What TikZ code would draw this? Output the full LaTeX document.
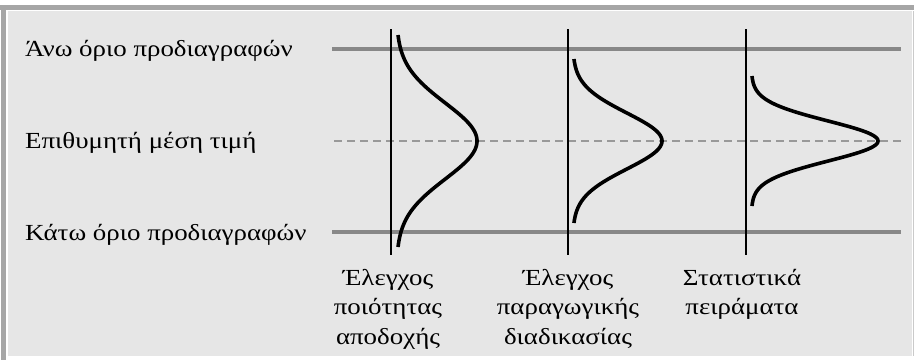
\documentclass[tikz,border=0pt]{standalone}
\usepackage{fontspec}
\setmainfont[FakeStretch=1.17]{Liberation Serif}
\definecolor{panel}{HTML}{E6E6E6}
\definecolor{frame}{HTML}{A6A6A6}
\definecolor{limit}{HTML}{888888}
\definecolor{target}{HTML}{999999}
\tikzset{
  limitline/.style={draw=limit, line width=4pt},
  targetline/.style={draw=target, line width=1.1pt, dash pattern=on 8pt off 5pt},
  axisline/.style={draw=black, line width=1.3pt},
  bell/.style={draw=black, line width=3.6pt, line join=round},
  sidelabel/.style={anchor=base west, inner sep=0pt, font=\fontsize{23}{28}\selectfont},
  caption/.style={anchor=north, inner sep=0pt, align=center, font=\fontsize{23}{29.5}\selectfont},
}
\begin{document}
\begin{tikzpicture}[x=1pt,y=-1pt]
\useasboundingbox (0,0) rectangle (914,360);
\fill[white] (0,0) rectangle (914,360);
% frame
\fill[frame] (0,5) rectangle (914,9.5);
\fill[frame] (1,5) rectangle (5.5,360);
\fill[panel] (8,11) rectangle (912,356);
\draw[frame!60, line width=0.6pt] (913.3,11) -- (913.3,356);
% coordinates
\coordinate (uL) at (332,49);  \coordinate (uR) at (901,49);
\coordinate (mL) at (334,141); \coordinate (mR) at (901,141);
\coordinate (lL) at (332,232); \coordinate (lR) at (901,232);
% limit lines
\draw[limitline] (uL) -- (uR);
\draw[limitline] (lL) -- (lR);
\draw[targetline] (mL) -- (mR);
% axes
\coordinate (a1t) at (391,29); \coordinate (a1b) at (391,255);
\coordinate (a2t) at (568,29); \coordinate (a2b) at (568,255);
\coordinate (a3t) at (746,29); \coordinate (a3b) at (746,255);
\draw[axisline] (a1t) -- (a1b);
\draw[axisline] (a2t) -- (a2b);
\draw[axisline] (a3t) -- (a3b);
% bell curves (sideways)
\draw[bell] plot[domain=-106:106, samples=120, variable=\t]
  ({398+79*(exp(-(\t/38)^2/2)-0.02)/0.98}, {141+\t});
\draw[bell] plot[domain=-82:82, samples=120, variable=\t]
  ({574+88*(exp(-(\t/28)^2/2)-0.014)/0.986}, {141+\t});
\draw[bell] plot[domain=-65:65, samples=120, variable=\t]
  ({752+126*(exp(-(\t/20)^2/2)-0.005)/0.995}, {141+\t});
% side labels
\node[sidelabel] (usl) at (25,56) {Άνω όριο προδιαγραφών};
\node[sidelabel] (tgt) at (25,148) {Επιθυμητή μέση τιμή};
\node[sidelabel] (lsl) at (25,240) {Κάτω όριο προδιαγραφών};
% captions
\node[caption] (c1) at (388,269) {Έλεγχος\\ποιότητας\\αποδοχής};
\node[caption] (c2) at (568,269) {Έλεγχος\\παραγωγικής\\διαδικασίας};
\node[caption] (c3) at (742,269) {Στατιστικά\\πειράματα};
\end{tikzpicture}
\end{document}
